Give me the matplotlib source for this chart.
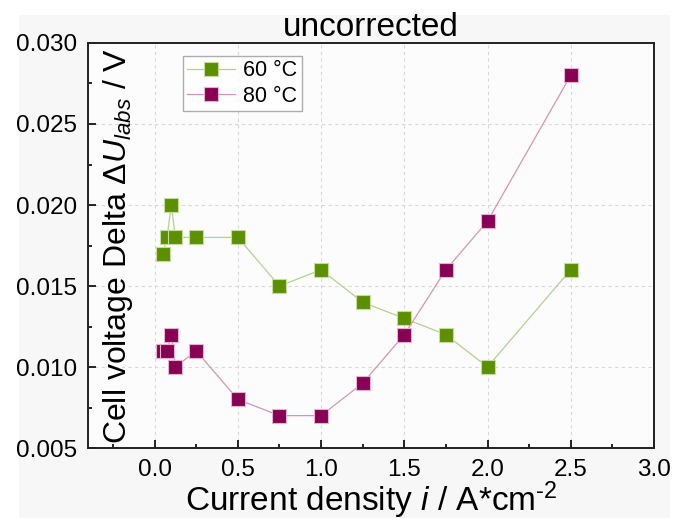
import matplotlib
matplotlib.use('Agg')
import matplotlib.pyplot as plt
from matplotlib.patches import Rectangle
from matplotlib.ticker import MultipleLocator

plt.rcParams['font.family'] = ['Liberation Sans', 'DejaVu Sans']
plt.rcParams['mathtext.fontset'] = 'custom'
plt.rcParams['mathtext.rm'] = 'Liberation Sans'
plt.rcParams['mathtext.it'] = 'Liberation Sans:italic'

# current density steps (A/cm2)
current = [0.05, 0.075, 0.1, 0.125, 0.25, 0.5, 0.75, 1.0, 1.25, 1.5, 1.75, 2.0, 2.5]
# cell voltage delta (V)
delta_60 = [0.017, 0.018, 0.020, 0.018, 0.018, 0.018, 0.015, 0.016, 0.014, 0.013, 0.012, 0.010, 0.016]
delta_80 = [0.011, 0.011, 0.012, 0.010, 0.011, 0.008, 0.007, 0.007, 0.009, 0.012, 0.016, 0.019, 0.028]
labels = ['60 °C', '80 °C']

fig = plt.figure(figsize=(6.85, 5.18), dpi=100)
fig.patch.set_facecolor('white')
# light grey panel behind the plot
fig.patches.append(Rectangle((0.028, 0.0), 0.95, 0.971, transform=fig.transFigure,
                             facecolor='#f7f7f7', edgecolor='none', zorder=-10))
ax = fig.add_axes([0.1285, 0.1351, 0.8262, 0.7819])
ax.set_facecolor('#fcfcfc')

ax.plot(current, delta_60, '-s', color='#b6d08e', markersize=9.5, markerfacecolor='#5c9000',
        markeredgecolor='#c5dca0', markeredgewidth=0.8, linewidth=0.9, label=labels[0], zorder=3)
ax.plot(current, delta_80, '-s', color='#d495b2', markersize=9.5, markerfacecolor='#880055',
        markeredgecolor='#e2b5cb', markeredgewidth=0.8, linewidth=0.9, label=labels[1], zorder=3)

ax.set_xlim(-0.4, 3.0)
ax.set_ylim(0.005, 0.030)
ax.xaxis.set_major_locator(MultipleLocator(0.5))
ax.xaxis.set_minor_locator(MultipleLocator(0.25))
ax.yaxis.set_major_locator(MultipleLocator(0.005))
ax.yaxis.set_minor_locator(MultipleLocator(0.0025))
ax.xaxis.set_major_formatter(plt.FuncFormatter(lambda v, p: f'{v:.1f}'))
ax.yaxis.set_major_formatter(plt.FuncFormatter(lambda v, p: f'{v:.3f}'))
ax.tick_params(which='both', direction='in', top=False, right=False, labelsize=17.5, width=1.2)
ax.tick_params(which='major', length=5.5, pad=8)
ax.tick_params(which='minor', length=3)
ax.grid(True, which='major', linestyle=(0, (3, 3)), color='#d8d8d8', linewidth=0.8)
for s in ax.spines.values():
    s.set_linewidth(1.4)
    s.set_color('#222222')

ax.set_title('uncorrected', fontsize=24, pad=3)
ax.set_xlabel('Current density $\\mathit{i}$ / A*cm$^{\\text{-2}}$', fontsize=24, labelpad=-1)
ax.set_ylabel('Cell voltage Delta $\\mathit{ΔU}_{\\mathit{labs}}$ / V', fontsize=23)
ax.yaxis.set_label_coords(0.083, 0.5)

leg = ax.legend(loc='upper left', bbox_to_anchor=(0.168, 0.968), fontsize=15.5, frameon=True,
                fancybox=False, edgecolor='#999999', handlelength=2.2, borderpad=0.2,
                labelspacing=0.2, handletextpad=0.4, borderaxespad=0)
leg.get_frame().set_linewidth(1.0)

fig.savefig('out.png', dpi=100, facecolor=fig.get_facecolor())
